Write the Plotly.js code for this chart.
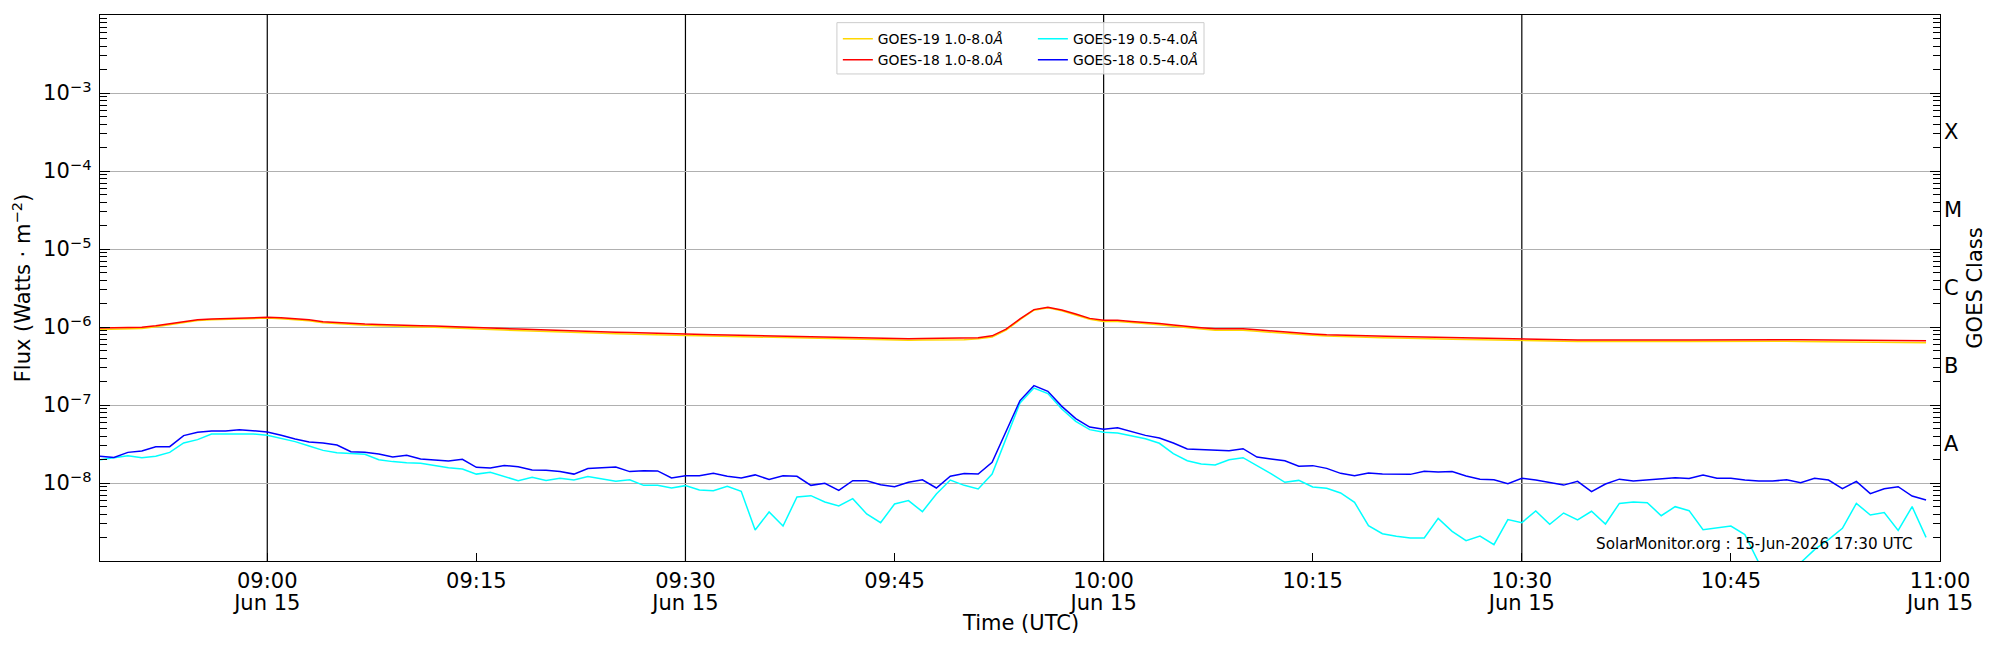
<!DOCTYPE html>
<html>
<head>
<meta charset="utf-8">
<script src="https://cdn.plot.ly/plotly-3.0.1.min.js"></script>
<style>
  html, body { margin: 0; padding: 0; background: #fff; }
  #graph { width: 2000px; height: 650px; }
</style>
</head>
<body>
<div id="graph"></div>
<script>
// GOES X-ray flux, one sample a minute from 08:48 UTC
const dayStr = '2026-06-15'
const startMinute = 8 * 60 + 48

// 1.0-8.0 A channel
const g19Long = [9.3e-7, 9.35e-7, 9.45e-7, 9.6e-7, 1.01e-6, 1.07e-6, 1.15e-6, 1.21e-6, 1.24e-6, 1.26e-6,
  1.27e-6, 1.29e-6, 1.30e-6, 1.28e-6, 1.24e-6, 1.20e-6, 1.13e-6, 1.10e-6, 1.07e-6, 1.05e-6,
  1.04e-6, 1.02e-6, 1.01e-6, 1.00e-6, 9.9e-7, 9.7e-7, 9.6e-7, 9.45e-7, 9.3e-7, 9.15e-7,
  9.0e-7, 8.85e-7, 8.7e-7, 8.6e-7, 8.5e-7, 8.4e-7, 8.3e-7, 8.2e-7, 8.15e-7, 8.1e-7,
  8.05e-7, 7.95e-7, 7.8e-7, 7.72e-7, 7.65e-7, 7.58e-7, 7.5e-7, 7.42e-7, 7.35e-7, 7.28e-7,
  7.2e-7, 7.13e-7, 7.06e-7, 7.0e-7, 6.93e-7, 6.88e-7, 6.83e-7, 6.8e-7, 6.78e-7, 6.8e-7,
  6.82e-7, 6.85e-7, 6.88e-7, 7.05e-7, 7.45e-7, 9.1e-7, 1.24e-6, 1.64e-6, 1.76e-6, 1.62e-6,
  1.44e-6, 1.26e-6, 1.18e-6, 1.18e-6, 1.14e-6, 1.11e-6, 1.07e-6, 1.02e-6, 9.7e-7, 9.4e-7,
  9.1e-7, 9.05e-7, 9.1e-7, 8.8e-7, 8.5e-7, 8.25e-7, 8.05e-7, 7.82e-7, 7.65e-7, 7.52e-7,
  7.42e-7, 7.33e-7, 7.28e-7, 7.23e-7, 7.2e-7, 7.13e-7, 7.06e-7, 6.99e-7, 6.92e-7, 6.85e-7,
  6.8e-7, 6.75e-7, 6.7e-7, 6.65e-7, 6.6e-7, 6.56e-7, 6.53e-7, 6.51e-7, 6.49e-7, 6.47e-7,
  6.46e-7, 6.46e-7, 6.47e-7, 6.5e-7, 6.52e-7, 6.54e-7, 6.55e-7, 6.56e-7, 6.56e-7, 6.56e-7,
  6.56e-7, 6.55e-7, 6.54e-7, 6.52e-7, 6.5e-7, 6.47e-7, 6.44e-7, 6.41e-7, 6.38e-7, 6.35e-7,
  6.32e-7, 6.3e-7]

const g18Long = [9.7e-7, 9.7e-7, 9.8e-7, 9.9e-7, 1.04e-6, 1.10e-6, 1.18e-6, 1.24e-6, 1.27e-6, 1.29e-6,
  1.30e-6, 1.32e-6, 1.33e-6, 1.31e-6, 1.27e-6, 1.24e-6, 1.17e-6, 1.14e-6, 1.11e-6, 1.09e-6,
  1.08e-6, 1.06e-6, 1.05e-6, 1.04e-6, 1.03e-6, 1.01e-6, 1.00e-6, 9.85e-7, 9.7e-7, 9.55e-7,
  9.4e-7, 9.25e-7, 9.06e-7, 8.95e-7, 8.85e-7, 8.75e-7, 8.63e-7, 8.55e-7, 8.48e-7, 8.42e-7,
  8.38e-7, 8.25e-7, 8.13e-7, 8.05e-7, 7.97e-7, 7.9e-7, 7.82e-7, 7.75e-7, 7.68e-7, 7.6e-7,
  7.52e-7, 7.45e-7, 7.38e-7, 7.3e-7, 7.23e-7, 7.18e-7, 7.13e-7, 7.1e-7, 7.08e-7, 7.1e-7,
  7.12e-7, 7.15e-7, 7.15e-7, 7.3e-7, 7.7e-7, 9.4e-7, 1.27e-6, 1.67e-6, 1.79e-6, 1.65e-6,
  1.47e-6, 1.29e-6, 1.22e-6, 1.22e-6, 1.18e-6, 1.15e-6, 1.11e-6, 1.06e-6, 1.01e-6, 9.8e-7,
  9.5e-7, 9.45e-7, 9.5e-7, 9.2e-7, 8.88e-7, 8.6e-7, 8.38e-7, 8.15e-7, 7.97e-7, 7.85e-7,
  7.74e-7, 7.65e-7, 7.6e-7, 7.55e-7, 7.52e-7, 7.45e-7, 7.38e-7, 7.3e-7, 7.23e-7, 7.15e-7,
  7.1e-7, 7.05e-7, 7.0e-7, 6.95e-7, 6.9e-7, 6.85e-7, 6.82e-7, 6.8e-7, 6.78e-7, 6.76e-7,
  6.75e-7, 6.75e-7, 6.76e-7, 6.8e-7, 6.82e-7, 6.85e-7, 6.86e-7, 6.87e-7, 6.87e-7, 6.88e-7,
  6.88e-7, 6.88e-7, 6.87e-7, 6.85e-7, 6.83e-7, 6.8e-7, 6.78e-7, 6.75e-7, 6.72e-7, 6.7e-7,
  6.68e-7, 6.66e-7]

// 0.5-4.0 A channel
const g19Short = [1.99e-8, 2.11e-8, 2.24e-8, 2.11e-8, 2.20e-8, 2.47e-8, 3.26e-8, 3.60e-8, 4.25e-8, 4.25e-8,
  4.25e-8, 4.25e-8, 4.09e-8, 3.70e-8, 3.39e-8, 2.98e-8, 2.62e-8, 2.45e-8, 2.40e-8, 2.33e-8,
  1.99e-8, 1.88e-8, 1.82e-8, 1.79e-8, 1.68e-8, 1.57e-8, 1.51e-8, 1.30e-8, 1.37e-8, 1.21e-8,
  1.07e-8, 1.18e-8, 1.08e-8, 1.15e-8, 1.09e-8, 1.21e-8, 1.12e-8, 1.05e-8, 1.10e-8, 9.33e-9,
  9.33e-9, 8.63e-9, 9.25e-9, 8.13e-9, 7.98e-9, 9.06e-9, 7.82e-9, 2.50e-9, 4.25e-9, 2.81e-9,
  6.62e-9, 6.88e-9, 5.71e-9, 5.07e-9, 6.30e-9, 4.01e-9, 3.10e-9, 5.38e-9, 5.94e-9, 4.29e-9,
  7.23e-9, 1.09e-8, 9.33e-9, 8.38e-9, 1.30e-8, 3.78e-8, 1.06e-7, 1.65e-7, 1.40e-7, 8.89e-8,
  6.18e-8, 4.83e-8, 4.47e-8, 4.38e-8, 4.05e-8, 3.70e-8, 3.23e-8, 2.38e-8, 1.93e-8, 1.75e-8,
  1.70e-8, 1.99e-8, 2.11e-8, 1.68e-8, 1.32e-8, 1.02e-8, 1.08e-8, 8.89e-9, 8.55e-9, 7.45e-9,
  5.65e-9, 2.84e-9, 2.24e-9, 2.07e-9, 1.97e-9, 1.97e-9, 3.52e-9, 2.40e-9, 1.82e-9, 2.09e-9,
  1.62e-9, 3.39e-9, 3.10e-9, 4.38e-9, 2.95e-9, 4.12e-9, 3.36e-9, 4.34e-9, 2.98e-9, 5.48e-9,
  5.70e-9, 5.60e-9, 3.81e-9, 4.97e-9, 4.42e-9, 2.52e-9, 2.65e-9, 2.81e-9, 2.18e-9, 9.5e-10,
  6.0e-10, 6.0e-10, 9.5e-10, 1.40e-9, 1.88e-9, 2.62e-9, 5.48e-9, 3.89e-9, 4.17e-9, 2.47e-9,
  4.97e-9, 2.01e-9]

const g18Short = [2.20e-8, 2.13e-8, 2.47e-8, 2.57e-8, 2.92e-8, 2.92e-8, 4.05e-8, 4.46e-8, 4.64e-8, 4.64e-8,
  4.83e-8, 4.69e-8, 4.51e-8, 4.09e-8, 3.66e-8, 3.36e-8, 3.26e-8, 3.07e-8, 2.52e-8, 2.47e-8,
  2.35e-8, 2.15e-8, 2.26e-8, 2.03e-8, 1.97e-8, 1.91e-8, 2.01e-8, 1.59e-8, 1.56e-8, 1.68e-8,
  1.62e-8, 1.47e-8, 1.46e-8, 1.40e-8, 1.30e-8, 1.53e-8, 1.57e-8, 1.60e-8, 1.40e-8, 1.44e-8,
  1.43e-8, 1.16e-8, 1.24e-8, 1.24e-8, 1.33e-8, 1.22e-8, 1.16e-8, 1.27e-8, 1.11e-8, 1.24e-8,
  1.22e-8, 9.33e-9, 9.9e-9, 8.05e-9, 1.07e-8, 1.07e-8, 9.5e-9, 8.98e-9, 1.02e-8, 1.10e-8,
  8.63e-9, 1.22e-8, 1.32e-8, 1.30e-8, 1.84e-8, 4.7e-8, 1.14e-7, 1.77e-7, 1.50e-7, 9.6e-8,
  6.68e-8, 5.22e-8, 4.88e-8, 5.12e-8, 4.59e-8, 4.08e-8, 3.78e-8, 3.26e-8, 2.73e-8, 2.68e-8,
  2.60e-8, 2.60e-8, 2.75e-8, 2.15e-8, 2.03e-8, 1.93e-8, 1.64e-8, 1.67e-8, 1.54e-8, 1.33e-8,
  1.24e-8, 1.34e-8, 1.30e-8, 1.30e-8, 1.29e-8, 1.41e-8, 1.38e-8, 1.40e-8, 1.23e-8, 1.12e-8,
  1.10e-8, 9.8e-9, 1.15e-8, 1.09e-8, 1.02e-8, 9.4e-9, 1.05e-8, 7.74e-9, 9.7e-9, 1.12e-8,
  1.06e-8, 1.09e-8, 1.14e-8, 1.17e-8, 1.14e-8, 1.27e-8, 1.15e-8, 1.15e-8, 1.09e-8, 1.06e-8,
  1.06e-8, 1.10e-8, 1.01e-8, 1.15e-8, 1.09e-8, 8.45e-9, 1.05e-8, 7.3e-9, 8.45e-9, 8.97e-9,
  6.81e-9, 6.05e-9]

// ticks and labels
const xTickTimes = ['09:00', '09:15', '09:30', '09:45', '10:00', '10:15', '10:30', '10:45', '11:00']
const dateTickTimes = ['09:00', '09:30', '10:00', '10:30', '11:00']
const dateLabel = 'Jun 15'
const halfHourLines = ['09:00', '09:30', '10:00', '10:30']
const yTickVals = [1e-8, 1e-7, 1e-6, 1e-5, 1e-4, 1e-3]
const yTickText = ['10<sup>−8</sup>', '10<sup>−7</sup>', '10<sup>−6</sup>', '10<sup>−5</sup>', '10<sup>−4</sup>', '10<sup>−3</sup>']
const classLabels = ['A', 'B', 'C', 'M', 'X']
const classVals = [3.16e-8, 3.16e-7, 3.16e-6, 3.16e-5, 3.16e-4]
const stamp = 'SolarMonitor.org : 15-Jun-2026 17:30 UTC'
const xTitle = 'Time (UTC)'

function pad(n) { return (n < 10 ? '0' : '') + n }
function timeAt(i) {
  const m = startMinute + i
  return dayStr + ' ' + pad(Math.floor(m / 60)) + ':' + pad(m % 60)
}
const times = g18Long.map((_, i) => timeAt(i))
const onDay = t => dayStr + ' ' + t

// minor ticks for the log axis, 2..9 in each decade
const minorVals = []
for (let d = -9; d <= -3; d++)
  for (let k = 2; k <= 9; k++) minorVals.push(k * Math.pow(10, d))

const FONT = 'DejaVu Sans, sans-serif'
const XRANGE = [onDay('08:48'), onDay('11:00')]
const YRANGE = [-9, -2]
const tickFont = { family: FONT, size: 21, color: '#000' }
const titleFont = { family: FONT, size: 21, color: '#000' }

function line(name, y, color, legend) {
  return {
    x: times, y: y, name: name, type: 'scatter', mode: 'lines',
    line: { color: color, width: 1.5 }, legend: legend
  }
}

const traces = [
  line('GOES-19 1.0-8.0<i>Å</i>', g19Long, '#FFD700', 'legend'),
  line('GOES-18 1.0-8.0<i>Å</i>', g18Long, '#FF0000', 'legend'),
  line('GOES-19 0.5-4.0<i>Å</i>', g19Short, '#00FFFF', 'legend2'),
  line('GOES-18 0.5-4.0<i>Å</i>', g18Short, '#0000FF', 'legend2')
]

const shapes = halfHourLines.map(t => ({
  type: 'line', xref: 'x', yref: 'paper', x0: onDay(t), x1: onDay(t),
  y0: 0, y1: 1, line: { color: 'black', width: 1.2 }, layer: 'below'
}))
// legend frame
shapes.push({
  type: 'rect', xref: 'paper', yref: 'paper', x0: 0.4005, x1: 0.6, y0: 0.892, y1: 0.986,
  line: { color: '#cccccc', width: 1 }, fillcolor: 'rgba(255,255,255,0.8)', layer: 'above'
})

const legendStyle = {
  bgcolor: 'rgba(0,0,0,0)', borderwidth: 0, font: { family: FONT, size: 13.9, color: '#000' },
  yanchor: 'top', xanchor: 'left', y: 0.985, tracegroupgap: 0
}

const layout = {
  width: 2000, height: 650,
  margin: { l: 100, r: 60, t: 15, b: 89 },
  paper_bgcolor: '#fff', plot_bgcolor: '#fff',
  font: { family: FONT, size: 21, color: '#000' },
  showlegend: true,
  legend: Object.assign({}, legendStyle, { x: 0.401 }),
  legend2: Object.assign({}, legendStyle, { x: 0.507 }),
  xaxis: {
    type: 'date', range: XRANGE,
    tickmode: 'array', tickvals: xTickTimes.map(onDay), ticktext: xTickTimes,
    tickfont: tickFont, ticklabelstandoff: 0,
    ticks: 'inside', ticklen: 8, tickwidth: 1, tickcolor: '#000',
    showgrid: false, zeroline: false,
    showline: true, mirror: true, linecolor: '#000', linewidth: 1.3,
    automargin: false
  },
  // second row of the time labels (date)
  xaxis2: {
    type: 'date', range: XRANGE, overlaying: 'x', side: 'bottom',
    tickmode: 'array', tickvals: dateTickTimes.map(onDay), ticktext: dateTickTimes.map(() => dateLabel),
    tickfont: tickFont, ticklabelstandoff: 27,
    ticks: '', showgrid: false, zeroline: false, showline: false, automargin: false
  },
  yaxis: {
    type: 'log', range: YRANGE,
    tickmode: 'array', tickvals: yTickVals, ticktext: yTickText,
    tickfont: tickFont,
    ticks: 'inside', ticklen: 10, tickwidth: 1, tickcolor: '#000',
    showgrid: true, gridcolor: '#b0b0b0', gridwidth: 1,
    showline: true, mirror: 'ticks', linecolor: '#000', linewidth: 1.3,
    ticklabelstandoff: 3,
    title: { text: 'Flux (Watts · m<sup>−2</sup>)', standoff: 6, font: titleFont }, automargin: false
  },
  yaxis2: {
    type: 'log', range: YRANGE, overlaying: 'y', side: 'left',
    tickmode: 'array', tickvals: minorVals,
    ticks: 'inside', ticklen: 7, tickwidth: 1, tickcolor: '#000',
    showgrid: false, showticklabels: false, showline: true, mirror: 'ticks',
    linecolor: '#000', linewidth: 1.3, zeroline: false
  },
  yaxis3: {
    type: 'log', range: YRANGE, overlaying: 'y', side: 'right',
    tickmode: 'array', tickvals: classVals, ticktext: classLabels,
    tickfont: tickFont,
    ticks: '', showgrid: false, showline: false, zeroline: false,
    ticklabelstandoff: 3,
    title: { text: 'GOES Class', standoff: 6, font: titleFont }, automargin: false
  },
  shapes: shapes,
  annotations: [{
    xref: 'paper', yref: 'paper', x: 0.9864, y: 0.0317, xanchor: 'right', yanchor: 'middle',
    text: stamp, showarrow: false, font: { family: FONT, size: 15.2, color: '#000' }
  }, {
    // x axis title, placed directly under the tick labels
    xref: 'paper', yref: 'paper', x: 0.5, y: -0.1136, xanchor: 'center', yanchor: 'middle',
    text: xTitle, showarrow: false, font: titleFont
  }]
}

// empty traces so the overlay axes get drawn
traces.push({ x: [times[0]], y: [1e-6], yaxis: 'y2', mode: 'none', showlegend: false, hoverinfo: 'skip' })
traces.push({ x: [times[0]], y: [1e-6], yaxis: 'y3', mode: 'none', showlegend: false, hoverinfo: 'skip' })
traces.push({ x: [times[0]], y: [1e-6], xaxis: 'x2', mode: 'none', showlegend: false, hoverinfo: 'skip' })

Plotly.newPlot('graph', traces, layout, { staticPlot: true })
</script>
</body>
</html>
